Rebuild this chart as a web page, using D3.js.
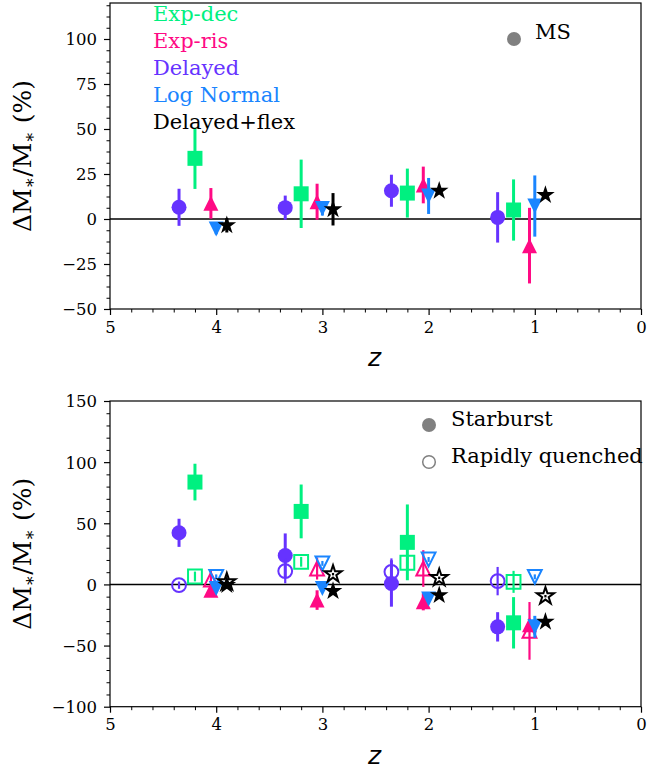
<!DOCTYPE html>
<html><head><meta charset="utf-8">
<script src="https://cdn.jsdelivr.net/npm/d3@7"></script>
<style>
body{margin:0;background:#fff}
svg{display:block}
text{font-family:"DejaVu Serif","Liberation Serif",serif;fill:#000}
text.zlab{font-family:"DejaVu Sans",sans-serif}
</style>
</head><body>
<svg id="chart" width="671" height="769"></svg>
<script>
// ---------------- data ----------------
const redshifts = [4, 3, 2, 1];
const models = ["Delayed", "Exp-dec", "Exp-ris", "Log Normal", "Delayed+flex"];
const legendOrder = ["Exp-dec", "Exp-ris", "Delayed", "Log Normal", "Delayed+flex"];
const zOffsets = [0.35, 0.2, 0.05, 0.0, -0.1];

// Main sequence (top panel), values and errors in %
const msDelayed    = [6.5, 6.3, 15.7, 0.9];
const msDelayedErr = [10.3, 6.7, 8.9, 14];
const msExpDec     = [33.7, 14, 14.4, 5];
const msExpDecErr  = [17, 19, 13.6, 17];
const msExpRis     = [8.7, 9.6, 18.9, -14.8];
const msExpRisErr  = [8.5, 10, 10.2, 21];
const msLogNorm    = [-5.5, 5.9, 12.8, 7.2];
const msLogNormErr = [3, 4, 10, 17];
const msFlex       = [-3.5, 5.4, 15.7, 13.3];
const msFlexErr    = [4, 9, 2, 2];

// Starburst (bottom panel, filled)
const sbDelayed    = [42.2, 23.7, 0.8, -34.7];
const sbDelayedErr = [11.5, 18, 19, 12];
const sbExpDec     = [83.7, 59.7, 34.4, -31.4];
const sbExpDecErr  = [15, 22, 31, 21];
const sbExpRis     = [-4.7, -12.8, -14.2, -33];
const sbExpRisErr  = [4, 8, 7, 5];
const sbLogNorm    = [-3.3, -3.3, -12, -34.7];
const sbLogNormErr = [3, 3, 3, 9];
const sbFlex       = [-0.5, -5.5, -8.8, -30.6];
const sbFlexErr    = [3, 3, 3, 3];

// Rapidly quenched (bottom panel, open)
const rqDelayed    = [-0.6, 10.9, 10.3, 2.7];
const rqDelayedErr = [3, 10, 11, 11.6];
const rqExpDec     = [6.5, 18.5, 17.7, 2.1];
const rqExpDecErr  = [4, 4, 5, 9];
const rqExpRis     = [4, 13, 13, -38];
const rqExpRisErr  = [7, 9, 15, 23.6];
const rqLogNorm    = [6.2, 17.2, 20.4, 6.2];
const rqLogNormErr = [2, 2, 2, 2];
const rqFlex       = [2, 8.4, 5.4, -9.6];
const rqFlexErr    = [1, 1, 1, 1];

const topTicks = [-50, -25, 0, 25, 50, 75, 100];
const bottomTicks = [-100, -50, 0, 50, 100, 150];
const xTicks = [5, 4, 3, 2, 1, 0];

// ---------------- styles ----------------
const colors = {
  "Delayed": "#6633ff",
  "Exp-dec": "#00f080",
  "Exp-ris": "#ff0a84",
  "Log Normal": "#1a85ff",
  "Delayed+flex": "#000000"
};

// custom matplotlib-like triangles
const triUp = {draw(ctx, size){const h = Math.sqrt(size)/2; ctx.moveTo(0,-h); ctx.lineTo(h,h); ctx.lineTo(-h,h); ctx.closePath();}};
const triDown = {draw(ctx, size){const h = Math.sqrt(size)/2; ctx.moveTo(0,h); ctx.lineTo(h,-h); ctx.lineTo(-h,-h); ctx.closePath();}};
const symbols = {
  "Delayed": [d3.symbolCircle, Math.PI*7.5*7.5],
  "Exp-dec": [d3.symbolSquare, 15*15],
  "Exp-ris": [triUp, 15*15],
  "Log Normal": [triDown, 15*15],
  "Delayed+flex": [d3.symbolStar, 9.8*9.8/0.8908130915292852]
};

const msData = {"Delayed":[msDelayed,msDelayedErr],"Exp-dec":[msExpDec,msExpDecErr],"Exp-ris":[msExpRis,msExpRisErr],"Log Normal":[msLogNorm,msLogNormErr],"Delayed+flex":[msFlex,msFlexErr]};
const sbData = {"Delayed":[sbDelayed,sbDelayedErr],"Exp-dec":[sbExpDec,sbExpDecErr],"Exp-ris":[sbExpRis,sbExpRisErr],"Log Normal":[sbLogNorm,sbLogNormErr],"Delayed+flex":[sbFlex,sbFlexErr]};
const rqData = {"Delayed":[rqDelayed,rqDelayedErr],"Exp-dec":[rqExpDec,rqExpDecErr],"Exp-ris":[rqExpRis,rqExpRisErr],"Log Normal":[rqLogNorm,rqLogNormErr],"Delayed+flex":[rqFlex,rqFlexErr]};

const svg = d3.select("#chart");
const L = 110, R = 641;
const x = d3.scaleLinear().domain([5, 0]).range([L, R]);

function panel(cfg){
  const y = d3.scaleLinear().domain(cfg.domain).range([cfg.bottom, cfg.top]);
  const g = svg.append("g");
  // minor ticks
  const yMinor = d3.range(cfg.domain[0], cfg.domain[1] + 1e-6, cfg.minor).filter(v => !cfg.ticks.some(t => Math.abs(t - v) < 1e-6));
  g.append("g").attr("transform", `translate(${L},0)`)
    .call(d3.axisLeft(y).tickValues(yMinor).tickSize(3.5).tickFormat(""))
    .call(a => a.select(".domain").remove())
    .selectAll("line").attr("stroke-width", 1);
  const xMinor = d3.range(0, 5.0001, 0.2).filter(v => Math.abs(v - Math.round(v)) > 1e-6);
  g.append("g").attr("transform", `translate(0,${cfg.bottom})`)
    .call(d3.axisBottom(x).tickValues(xMinor).tickSize(3.5).tickFormat(""))
    .call(a => a.select(".domain").remove())
    .selectAll("line").attr("stroke-width", 1);
  // major
  const ya = g.append("g").attr("transform", `translate(${L},0)`)
    .call(d3.axisLeft(y).tickValues(cfg.ticks).tickSize(6).tickPadding(7).tickFormat(d3.format("d")));
  ya.select(".domain").remove();
  ya.selectAll("line").attr("stroke-width", 1.2);
  ya.selectAll("text").attr("font-size", 16.5).attr("dy", "0.36em");
  const xa = g.append("g").attr("transform", `translate(0,${cfg.bottom})`)
    .call(d3.axisBottom(x).tickValues(xTicks).tickSize(6).tickPadding(6).tickFormat(d3.format("d")));
  xa.select(".domain").remove();
  xa.selectAll("line").attr("stroke-width", 1.2);
  xa.selectAll("text").attr("font-size", 16.5);

  // zero line
  g.append("line").attr("x1", L).attr("x2", R).attr("y1", y(0)).attr("y2", y(0))
    .attr("stroke", "#000").attr("stroke-width", 1.5);

  // data
  models.forEach((m, mi) => {
    cfg.sets.forEach(set => {
      const [vals, errs] = set.data[m];
      const pts = redshifts.map((z, i) => ({z: z + zOffsets[mi], v: vals[i], e: errs[i]}));
      const col = colors[m];
      const gg = g.append("g");
      gg.selectAll("line").data(pts).join("line")
        .attr("x1", d => x(d.z)).attr("x2", d => x(d.z))
        .attr("y1", d => y(d.v - d.e)).attr("y2", d => y(d.v + d.e))
        .attr("stroke", col).attr("stroke-width", set.open ? 2.2 : 3);
      const sym = d3.symbol().type(symbols[m][0]).size(set.open ? symbols[m][1]*0.85 : symbols[m][1]);
      gg.selectAll("path").data(pts).join("path")
        .attr("transform", d => `translate(${x(d.z)},${y(d.v)})`)
        .attr("d", sym)
        .attr("fill", set.open ? "none" : col)
        .attr("stroke", set.open ? col : "none")
        .attr("stroke-width", set.open ? 2 : 0);
    });
  });

  // frame
  g.append("rect").attr("x", L).attr("y", cfg.top).attr("width", R - L).attr("height", cfg.bottom - cfg.top)
    .attr("fill", "none").attr("stroke", "#000").attr("stroke-width", 1.2);

  // labels
  const cy = (cfg.top + cfg.bottom) / 2;
  const yl = g.append("text").attr("transform", `translate(31,${cy}) rotate(-90)`)
    .attr("text-anchor", "middle").attr("font-size", 25);
  yl.append("tspan").text("ΔM");
  yl.append("tspan").attr("font-size", 17).attr("dy", 4).text("∗");
  yl.append("tspan").attr("dy", -4).text("/M");
  yl.append("tspan").attr("font-size", 17).attr("dy", 4).text("∗");
  yl.append("tspan").attr("dy", -4).text(" (%)");
  g.append("text").attr("class", "zlab").attr("x", (L + R) / 2 - 1).attr("y", cfg.bottom + 57)
    .attr("text-anchor", "middle").attr("font-size", 25).attr("font-style", "italic").text("z");
  return y;
}

panel({domain: [-50, 120], top: 3, bottom: 309, ticks: topTicks, minor: 6.25,
  sets: [{data: msData, open: false}]});
panel({domain: [-100, 150], top: 401, bottom: 706.7, ticks: bottomTicks, minor: 10,
  sets: [{data: sbData, open: false}, {data: rqData, open: true}]});

// legends
svg.append("g").selectAll("text").data(legendOrder).join("text")
  .attr("x", 153).attr("y", (d, i) => 21 + i * 27)
  .attr("font-size", 21).style("fill", d => colors[d]).text(d => d);

svg.append("circle").attr("cx", 514).attr("cy", 39).attr("r", 7).attr("fill", "#808080");
svg.append("text").attr("x", 535).attr("y", 39).attr("font-size", 21).text("MS");

svg.append("circle").attr("cx", 429).attr("cy", 425).attr("r", 7).attr("fill", "#808080");
svg.append("text").attr("x", 451).attr("y", 426).attr("font-size", 21).text("Starburst");
svg.append("circle").attr("cx", 429).attr("cy", 462).attr("r", 6.3).attr("fill", "none").attr("stroke", "#808080").attr("stroke-width", 1.5);
svg.append("text").attr("x", 451).attr("y", 463).attr("font-size", 21).text("Rapidly quenched");
</script>
</body></html>
